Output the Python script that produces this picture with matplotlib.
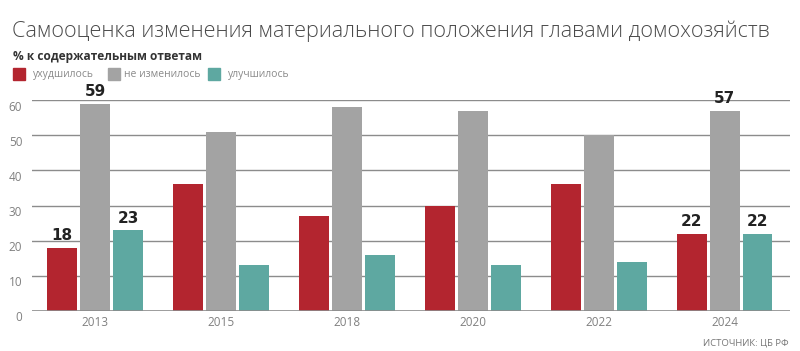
import matplotlib
matplotlib.use("Agg")
import matplotlib.pyplot as plt
from matplotlib.patches import Rectangle
from matplotlib.transforms import ScaledTranslation
import numpy as np

years = ["2013", "2015", "2018", "2020", "2022", "2024"]
worse = [18, 36, 27, 30, 36, 22]
same = [59, 51, 58, 57, 50, 57]
better = [23, 13, 16, 13, 14, 22]
series_names = ["ухудшилось", "не изменилось", "улучшилось"]
labelled = {0: [0, 1, 2], 5: [0, 1, 2]}

colors = ["#b3252f", "#a3a3a3", "#5ea8a1"]

plt.rcParams["font.family"] = ["Open Sans", "DejaVu Sans"]

fig = plt.figure(figsize=(8, 3.51), dpi=100)
ax = fig.add_axes([0.04, 0.114, 0.9475, 0.601])

x = np.arange(len(years))
w = 0.238
step = 0.262
for k, vals in enumerate([worse, same, better]):
    xs = x + (k - 1) * step
    ax.bar(xs, vals, width=w, color=colors[k], zorder=3)
    for i, v in enumerate(vals):
        if i in labelled and k in labelled[i]:
            ax.text(xs[i], v + 1.2, str(v), ha="center", va="bottom",
                    fontsize=11, color="#222222", fontweight="semibold",
                    family=["Liberation Sans Narrow", "DejaVu Sans"], zorder=4)

ax.set_xlim(-0.5, 5.52)
ax.set_ylim(0, 60)
ax.set_yticks(range(0, 61, 10))
for y in range(10, 61, 10):
    ax.axhline(y, color="#8c8c8c", lw=1.0, zorder=1)
ax.axhline(0, color="#8c8c8c", lw=1.2, zorder=4)
for s in ax.spines.values():
    s.set_visible(False)
ax.tick_params(axis="both", length=0, colors="#808080", labelsize=8.5)
ax.tick_params(axis="y", pad=7)
ax.set_xticks(x)
ax.set_xticklabels(years)
shift = ScaledTranslation(0, -7 / 100, fig.dpi_scale_trans)
for t in ax.get_yticklabels():
    t.set_verticalalignment("center")
    t.set_transform(t.get_transform() + shift)

fig.text(0.015, 0.912, "Самооценка изменения материального положения главами домохозяйств",
         fontsize=15.6, color="#4a4a4a", fontweight="light", va="center", ha="left")
fig.text(0.016, 0.838, "% к содержательным ответам", fontsize=8.6,
         color="#333333", fontweight="bold", va="center", ha="left")

# legend: square / text left edges in figure fraction
sq_x = [0.016, 0.135, 0.26]
txt_x = [0.041, 0.155, 0.285]
for k, name in enumerate(series_names):
    fig.patches.append(Rectangle((sq_x[k], 0.772), 0.015, 0.034,
                                 transform=fig.transFigure, color=colors[k]))
    fig.text(txt_x[k], 0.788, name, fontsize=7.5, color="#8a8a8a",
             va="center", ha="left")

fig.text(0.986, 0.023, "ИСТОЧНИК: ЦБ РФ", fontsize=6.8, color="#777777",
         ha="right", va="center")

fig.savefig("out.png", dpi=100)
